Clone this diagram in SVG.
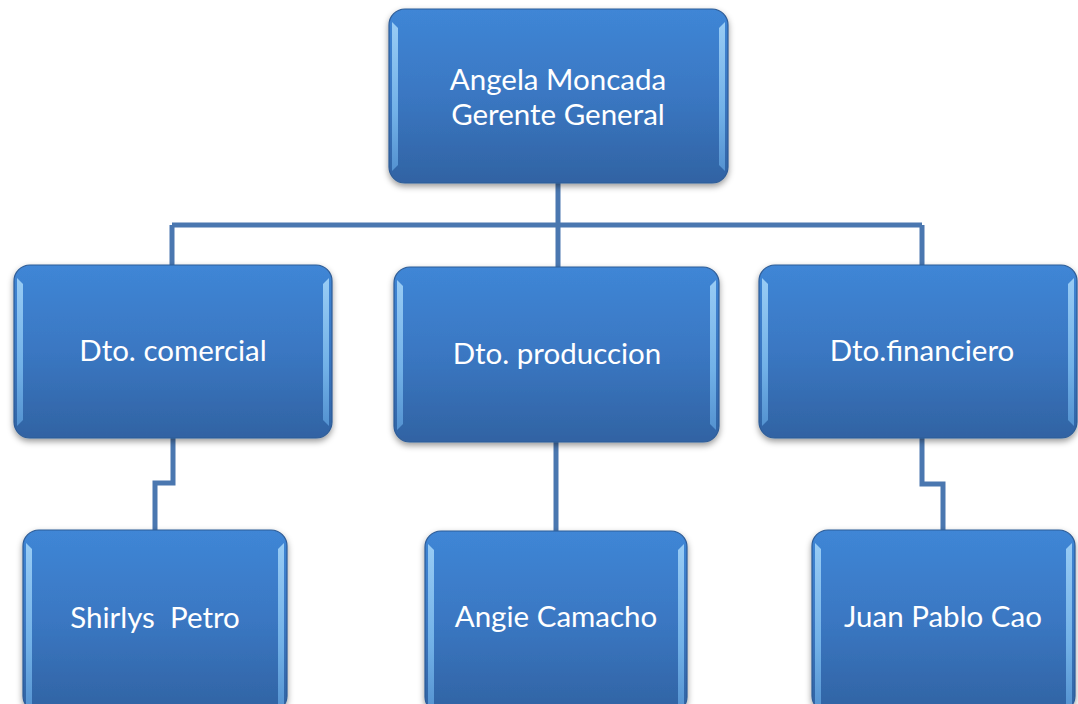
<svg xmlns="http://www.w3.org/2000/svg" width="1078" height="704" viewBox="0 0 1078 704">
<defs>
<linearGradient id="fillG" x1="0" y1="0" x2="0" y2="1">
<stop offset="0" stop-color="#3f86d6"/>
<stop offset="0.5" stop-color="#3a77c2"/>
<stop offset="1" stop-color="#3163a3"/>
</linearGradient>
<linearGradient id="bevG" x1="0" y1="0" x2="0" y2="1">
<stop offset="0" stop-color="#a8d8fa"/>
<stop offset="0.6" stop-color="#7cbcef"/>
<stop offset="1" stop-color="#5a9ad8"/>
</linearGradient>
<filter id="sh" x="-10%" y="-10%" width="120%" height="125%">
<feDropShadow dx="0" dy="3" stdDeviation="3" flood-color="#000" flood-opacity="0.4"/>
</filter>
<style>
.box{fill:url(#fillG);stroke:#2d5c97;stroke-width:1.2;filter:url(#sh)}
.bev{fill:url(#bevG);opacity:0.85}
.lbl{font-family:Lato,"Open Sans","Liberation Sans",sans-serif;font-size:29.5px;fill:#ffffff;text-anchor:middle}
.con{fill:none;stroke:#4a77b0;stroke-width:5;stroke-linejoin:miter}
</style>
</defs>
<rect width="1078" height="704" fill="#ffffff"/>
<g id="connectors">
<path class="con" d="M558 183 V225 M172 225 H922 M172 225 V265 M558 225 V267 M922 225 V265"/>
<path class="con" d="M173 438 V483 H155 V530"/>
<path class="con" d="M556 442 V531"/>
<path class="con" d="M922 438 V484 H943 V530"/>
</g>
<g id="n-gerente">
<rect class="box" x="389" y="9" width="339" height="174" rx="16"/>
<path class="bev" d="M392 22 L398 28 V165 L392 171 Z"/>
<path class="bev" d="M725 22 L719 28 V165 L725 171 Z"/>
<text class="lbl" x="558" y="90">Angela Moncada</text>
<text class="lbl" x="558" y="125">Gerente General</text>
</g>
<g id="n-comercial">
<rect class="box" x="14" y="265" width="318" height="173" rx="16"/>
<path class="bev" d="M17 278 L23 284 V420 L17 426 Z"/>
<path class="bev" d="M329 278 L323 284 V420 L329 426 Z"/>
<text class="lbl" x="173" y="361">Dto. comercial</text>
</g>
<g id="n-produccion">
<rect class="box" x="394" y="267" width="325" height="175" rx="16"/>
<path class="bev" d="M397 280 L403 286 V424 L397 430 Z"/>
<path class="bev" d="M716 280 L710 286 V424 L716 430 Z"/>
<text class="lbl" x="557" y="364">Dto. produccion</text>
</g>
<g id="n-financiero">
<rect class="box" x="759" y="265" width="318" height="173" rx="16"/>
<path class="bev" d="M762 278 L768 284 V420 L762 426 Z"/>
<path class="bev" d="M1074 278 L1068 284 V420 L1074 426 Z"/>
<text class="lbl" x="922" y="361">Dto.financiero</text>
</g>
<g id="n-shirlys">
<rect class="box" x="23" y="530" width="264" height="182" rx="16"/>
<path class="bev" d="M26 543 L32 549 V712 L26 712 Z"/>
<path class="bev" d="M284 543 L278 549 V712 L284 712 Z"/>
<text class="lbl" x="155" y="628" xml:space="preserve">Shirlys  Petro</text>
</g>
<g id="n-angie">
<rect class="box" x="425" y="531" width="262" height="182" rx="16"/>
<path class="bev" d="M428 544 L434 550 V712 L428 712 Z"/>
<path class="bev" d="M684 544 L678 550 V712 L684 712 Z"/>
<text class="lbl" x="556" y="627">Angie Camacho</text>
</g>
<g id="n-juan">
<rect class="box" x="812" y="530" width="263" height="182" rx="16"/>
<path class="bev" d="M815 543 L821 549 V712 L815 712 Z"/>
<path class="bev" d="M1072 543 L1066 549 V712 L1072 712 Z"/>
<text class="lbl" x="943" y="627">Juan Pablo Cao</text>
</g>
</svg>
